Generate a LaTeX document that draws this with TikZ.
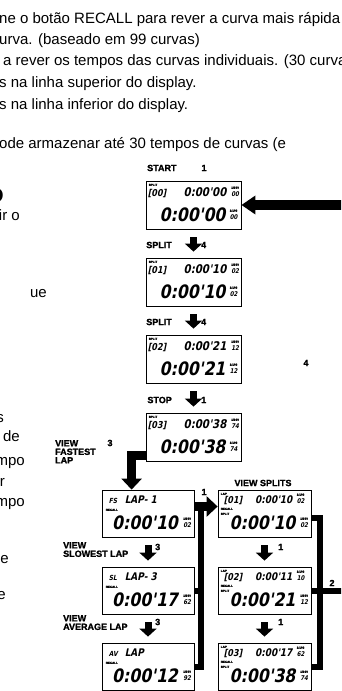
\documentclass[tikz,border=0pt]{standalone}
\usepackage{fontspec}
\setmainfont{Liberation Sans}
\newfontfamily\lcd{DejaVu Sans}[FakeSlant=0.2, FakeStretch=0.85]
\newfontfamily\lblf{Liberation Sans}[BoldFeatures={FakeBold=1.5}]
\usetikzlibrary{arrows.meta,calc}
\tikzset{
 dispbox/.style={draw, line width=0.8bp, rectangle, minimum width=95bp, minimum height=48bp, inner sep=0},
 rowbox/.style={dispbox, minimum width=92bp, minimum height=47bp},
 vsbox/.style={dispbox, minimum width=93bp, minimum height=47bp},
 body/.style={font=\fontsize{15bp}{18bp}\selectfont, inner sep=0, anchor=base west},
 bodyr/.style={font=\fontsize{15bp}{18bp}\selectfont, inner sep=0, anchor=base east},
 lbl/.style={font=\lblf\bfseries\fontsize{9bp}{9bp}\selectfont, inner sep=0},
 lbl3/.style={lbl, anchor=north west, align=left, font=\lblf\bfseries\fontsize{9bp}{8.5bp}\selectfont},
 tinylbl/.style={font=\lblf\bfseries\fontsize{3bp}{3bp}\selectfont, inner sep=0},
 dig/.style={font=\lcd\bfseries\fontsize{18.5bp}{18.5bp}\selectfont, inner sep=0},
 sdig/.style={font=\lcd\bfseries\fontsize{12bp}{12bp}\selectfont, inner sep=0},
 vdig/.style={font=\lcd\bfseries\fontsize{10.5bp}{10.5bp}\selectfont, inner sep=0},
 bdig/.style={font=\lcd\bfseries\fontsize{9.5bp}{9.5bp}\selectfont, inner sep=0},
 mdig/.style={font=\lcd\bfseries\fontsize{7bp}{7bp}\selectfont, inner sep=0},
 supnode/.style={inner sep=0, anchor=base west, font=\fontsize{6.5bp}{7.5bp}\selectfont},
 blockarrow/.style={line width=7bp, -{Triangle[width=17bp,length=8bp]}, shorten <=8bp, shorten >=6bp},
 bigconn/.style={line width=9bp, -{Triangle[width=20bp,length=11bp]}},
 barline/.style={line width=6bp},
}
\newcommand\supstack[3]{% name, point, digits
 \node[supnode] (#1) at #2 {\shortstack[l]{{\lblf\bfseries\fontsize{3bp}{3bp}\selectfont 1/100}\\{\lcd\bfseries\fontsize{6.5bp}{7.5bp}\selectfont #3}}};
}
\newcommand\lcdmain[6]{%
 \node[dispbox] (#1) at (#2) {};
 \node[tinylbl, anchor=north west] (#1-a) at ($(#1.north west)+(3,3)$) {SPLIT};
 \node[bdig, anchor=base west] (#1-b) at ($(#1.north west)+(2,16)$) {[#3]};
 \node[sdig, anchor=base east] (#1-c) at ($(#1.north west)+(81,16)$) {#4};
 \supstack{#1-d}{($(#1.north west)+(85.5,16)$)}{#5}
 \node[dig, anchor=base east] (#1-f) at ($(#1.north west)+(80,41)$) {#6};
 \supstack{#1-g}{($(#1.north west)+(84,39)$)}{#5}
}
\newcommand\lcdrow[6]{%
 \node[rowbox] (#1) at (#2) {};
 \node[mdig, anchor=base west] (#1-a) at ($(#1.north west)+(7,14)$) {#3};
 \node[vdig, anchor=base west] (#1-b) at ($(#1.north west)+(23,14)$) {#4};
 \node[tinylbl, anchor=north west] (#1-c) at ($(#1.north west)+(4,19)$) {RECALL};
 \node[dig, anchor=base east] (#1-d) at ($(#1.north west)+(76.5,40)$) {#5};
 \supstack{#1-e}{($(#1.north west)+(81.5,38)$)}{#6}
}
\newcommand\lcdvs[7]{%
 \node[vsbox] (#1) at (#2) {};
 \node[tinylbl, anchor=north west] (#1-a) at ($(#1.north west)+(3,3)$) {LAP};
 \node[bdig, anchor=base west] (#1-b) at ($(#1.north west)+(6,14)$) {[#3]};
 \node[vdig, anchor=base east] (#1-c) at ($(#1.north west)+(75,14)$) {#4};
 \supstack{#1-d}{($(#1.north west)+(79,14)$)}{#5}
 \node[tinylbl, anchor=north west] (#1-e) at ($(#1.north west)+(3,18)$) {RECALL};
 \node[tinylbl, anchor=north west] (#1-f) at ($(#1.north west)+(3,23)$) {SPLIT};
 \node[dig, anchor=base east] (#1-g) at ($(#1.north west)+(78,40)$) {#6};
 \supstack{#1-h}{($(#1.north west)+(82.5,38)$)}{#7}
}
\begin{document}
\begin{tikzpicture}[x=1bp,y=-1bp]
\useasboundingbox (0,0) rectangle (341,691);
\clip (0,0) rectangle (341,691);
% text at top
\node[body] (t1) at (-1,24) {ne o botão RECALL para rever a curva mais rápida};
\node[body] (t2) at (-1,45) {urva. (baseado em 99 curvas)};
\node[body] (t3) at (3,66) {a rever os tempos das curvas individuais. (30 curvas};
\node[body] (t4) at (-1,88) {s na linha superior do display.};
\node[body] (t5) at (-1,110) {s na linha inferior do display.};
\node[body] (t6) at (-1,148) {ode armazenar até 30 tempos de curvas (e};
% left column fragments
\node[bodyr, font=\bfseries\fontsize{20bp}{20bp}\selectfont] (h1) at (4,202) {O};
\node[bodyr] (c1) at (20,220) {ir o};
\node[bodyr] (c2) at (47,297) {ue};
\node[bodyr] (c3) at (4,422) {s};
\node[bodyr] (c4) at (20,441) {de};
\node[bodyr] (c5) at (25,465) {mpo};
\node[bodyr] (c6) at (5,486) {r};
\node[bodyr] (c7) at (25,506) {mpo};
\node[bodyr] (c8) at (9,563) {e};
\node[bodyr] (c9) at (6,599) {e};
% main column
\lcdmain{b1}{193.5,205}{00}{0:00'00}{00}{0:00'00}
\lcdmain{b2}{193.5,282}{01}{0:00'10}{02}{0:00'10}
\lcdmain{b3}{193.5,359}{02}{0:00'21}{12}{0:00'21}
\lcdmain{b4}{193.5,437}{03}{0:00'38}{74}{0:00'38}
% recall rows
\lcdrow{fs}{148,513.5}{FS}{LAP- 1}{0:00'10}{02}
\lcdrow{sl}{148,590.5}{SL}{LAP- 3}{0:00'17}{62}
\lcdrow{av}{148,666.5}{AV}{LAP}{0:00'12}{92}
% view splits
\lcdvs{v1}{264.5,513.5}{01}{0:00'10}{02}{0:00'10}{02}
\lcdvs{v2}{264.5,590.5}{02}{0:00'11}{10}{0:00'21}{12}
\lcdvs{v3}{264.5,666.5}{03}{0:00'17}{62}{0:00'38}{74}
% labels
\node[lbl, anchor=west] (lstart) at (147,168) {START};
\node[lbl] (k1) at (204,168) {1};
\node[lbl, anchor=east] (lsp1) at (172,245) {SPLIT};
\node[lbl, anchor=west] (k2) at (201,245) {4};
\node[lbl, anchor=east] (lsp2) at (172,322) {SPLIT};
\node[lbl, anchor=west] (k3) at (201,322) {4};
\node[lbl, anchor=east] (lstop) at (172,400) {STOP};
\node[lbl, anchor=west] (k4) at (201,400) {1};
\node[lbl3] (lfast) at (55,440) {VIEW\\FASTEST\\LAP};
\node[lbl] (k5) at (110,443) {3};
\node[lbl] (lvs) at (263,483) {VIEW SPLITS};
\node[lbl] (k6) at (204,492) {1};
\node[lbl3] (lslow) at (63,542) {VIEW\\SLOWEST LAP};
\node[lbl, anchor=west] (k7) at (155,547) {3};
\node[lbl3] (lavg) at (63,615) {VIEW\\AVERAGE LAP};
\node[lbl, anchor=west] (k8) at (155,622) {3};
\node[lbl, anchor=west] (k9) at (278,547) {1};
\node[lbl, anchor=west] (k10) at (278,622) {1};
\node[lbl] (k11) at (306,363) {4};
\node[lbl] (k12) at (332,583) {2};
% connectors
\coordinate (edgeA) at (346,205);
\coordinate (edgeB) at (346,590.5);
\draw[line width=10bp, -{Triangle[width=18bp,length=14bp]}] (edgeA) -- (b1.east);
\draw[blockarrow] (b1.south) -- (b2.north);
\draw[blockarrow] (b2.south) -- (b3.north);
\draw[blockarrow] (b3.south) -- (b4.north);
\draw[bigconn] ($(b4.south west)+(0,-6)$) -| ($(fs.north west)+(30,0)$);
\draw[blockarrow] (fs.south) -- (sl.north);
\draw[blockarrow] (sl.south) -- (av.north);
\draw[blockarrow] (v1.south) -- (v2.north);
\draw[blockarrow] (v2.south) -- (v3.north);
\coordinate (bartop) at ($(fs.east)+(7,-7)$);
\draw[barline] (av.east) -| (bartop);
\draw[barline] (sl.east) -- (sl.east -| bartop);
\draw[bigconn] ($(fs.east)+(0,-7)$) -- ($(v1.west)+(0,-7)$);
\draw[barline] ($(v1.east)+(0,4)$) -| ($(v3.east)+(9,0)$) -- (v3.east);
\draw[barline] (v2.east) -- (edgeB);
\end{tikzpicture}
\end{document}
